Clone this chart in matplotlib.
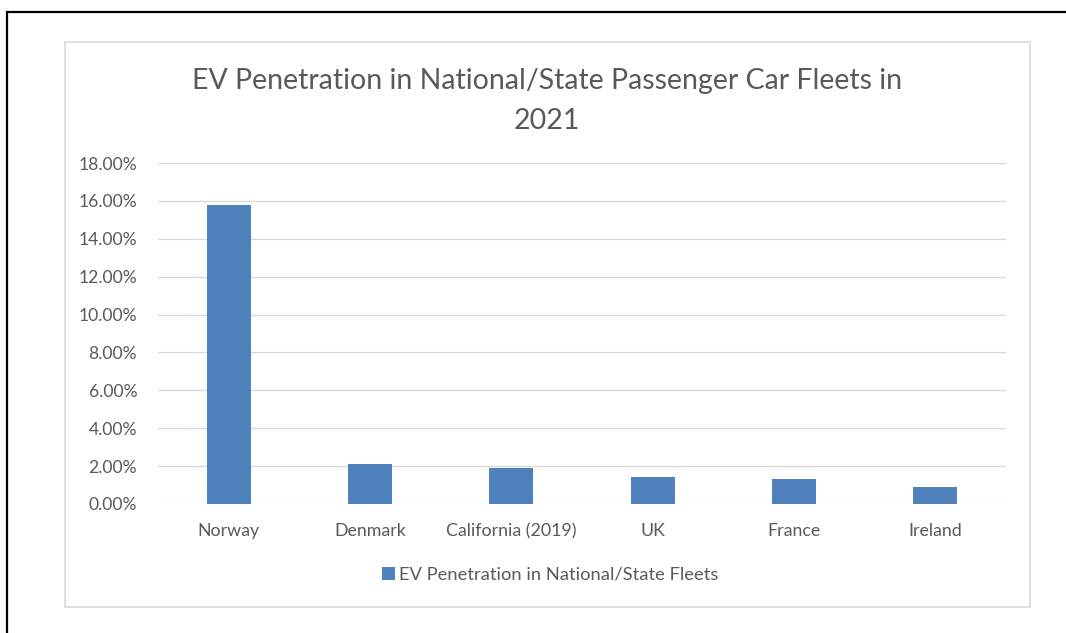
import matplotlib
matplotlib.use('Agg')
import matplotlib.pyplot as plt
from matplotlib.patches import Rectangle
from matplotlib.ticker import PercentFormatter

categories = ['Norway', 'Denmark', 'California (2019)', 'UK', 'France', 'Ireland']
penetration = [0.158, 0.021, 0.019, 0.014, 0.013, 0.009]
series_name = 'EV Penetration in National/State Fleets'
title = 'EV Penetration in National/State Passenger Car Fleets in\n2021'

plt.rcParams['font.family'] = ['Lato', 'DejaVu Sans']
text_col = '#595959'
bar_col = '#4f81bd'

W, H = 1066, 633
fig = plt.figure(figsize=(W / 100, H / 100), dpi=100)

# outer black frame and chart area border
fig.patches.append(Rectangle((7 / W, -0.1), 1.2, (H - 12) / H + 0.1, transform=fig.transFigure,
                             fill=False, edgecolor='black', linewidth=1.6))
fig.patches.append(Rectangle((65 / W, (H - 607) / H), 965 / W, 565 / H, transform=fig.transFigure,
                             fill=False, edgecolor='#d9d9d9', linewidth=1.2))

ax = fig.add_axes([158 / W, (H - 504) / H, 848 / W, 341 / H])
x = range(len(categories))
ax.bar(x, penetration, width=0.31, color=bar_col, label=series_name, zorder=3)
ax.set_xlim(-0.5, len(categories) - 0.5)
ax.set_ylim(0, 0.18)
ax.set_yticks([i * 0.02 for i in range(10)])
ax.yaxis.set_major_formatter(PercentFormatter(1.0, decimals=2))
ax.set_xticks(list(x))
ax.set_xticklabels(categories)
ax.grid(axis='y', color='#d9d9d9', linewidth=1.0, zorder=0)
ax.tick_params(axis='both', length=0, colors=text_col)
ax.tick_params(axis='x', pad=14, labelsize=12.8)
ax.tick_params(axis='y', pad=15, labelsize=12.6)
for s in ax.spines.values():
    s.set_visible(False)

fig.text(547 / W, 1 - 101 / H, title, ha='center', va='center', fontsize=20.5,
         color=text_col, linespacing=1.64)

ax.legend(loc='center', bbox_to_anchor=(550 / W, 1 - 575 / H), bbox_transform=fig.transFigure,
          frameon=False, fontsize=13.2, labelcolor=text_col, handlelength=0.7, handleheight=0.7,
          handletextpad=0.2)

plt.savefig('out.png', dpi=100)
